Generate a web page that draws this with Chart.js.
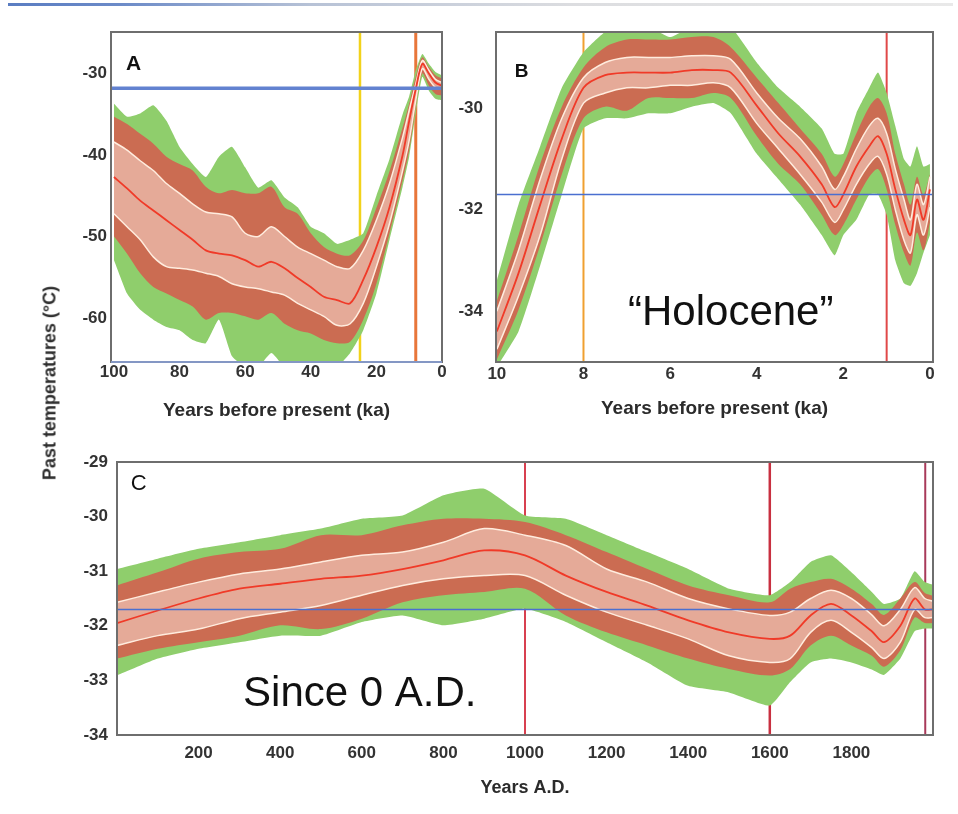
<!DOCTYPE html>
<html>
<head>
<meta charset="utf-8">
<title>Past temperatures</title>
<script src="https://cdn.jsdelivr.net/npm/chart.js@4.4.1/dist/chart.umd.min.js"></script>
<style>
  html, body { margin: 0; padding: 0; background: #fff; }
  body { width: 958px; height: 814px; position: relative; overflow: hidden; font-family: "Liberation Sans", Arial, sans-serif; }
  .topline { position: absolute; left: 8px; top: 3px; width: 945px; height: 3px;
    background: linear-gradient(to right, #5a7dc2 0%, #6c8bc8 12%, #b7c2d6 32%, #dcdde0 60%, #e9e9e9 100%); }
  canvas { position: absolute; }
  #chartA { left: 50px; top: 22px; }
  #chartB { left: 455px; top: 22px; }
  #chartC { left: 50px; top: 445px; }
  .ytitle { position: absolute; left: 50px; top: 383px; transform: translate(-50%, -50%) rotate(-90deg);
    font: bold 18px "Liberation Sans", Arial, sans-serif; color: #2e2e2e; white-space: nowrap; }
</style>
</head>
<body>
<div class="topline"></div>
<canvas id="chartA" width="405" height="400"></canvas>
<canvas id="chartB" width="495" height="400"></canvas>
<canvas id="chartC" width="900" height="354"></canvas>
<div class="ytitle">Past temperatures (°C)</div>

<script>
// --- Panel A: last 100 ka ---
const aYears = [100, 96, 92, 88, 84, 80, 76, 72, 68, 64, 60, 56, 52, 48, 44, 40, 36, 32, 28, 24, 20, 16, 12, 10, 8, 6, 4, 2, 0];
const aMean = [-42.7, -44.1, -45.6, -46.8, -48.0, -49.2, -50.4, -51.7, -52.1, -52.3, -52.9, -53.7, -53.1, -53.9, -55.1, -56.2, -57.4, -57.8, -58.2, -55.3, -51.3, -46.4, -40.0, -35.8, -31.9, -28.8, -30.0, -31.1, -31.5];
const aSdHi = [-38.4, -39.4, -40.7, -41.9, -43.5, -44.7, -46.0, -47.0, -47.2, -47.6, -49.6, -50.0, -48.8, -50.0, -51.3, -52.1, -52.9, -53.7, -53.9, -51.7, -48.0, -43.5, -37.8, -34.5, -31.3, -28.4, -29.6, -30.7, -31.1];
const aSdLo = [-47.2, -48.8, -50.4, -52.5, -53.7, -53.9, -54.1, -54.5, -54.9, -55.8, -56.2, -56.4, -56.8, -57.2, -58.2, -59.0, -59.8, -60.9, -60.7, -58.2, -53.7, -48.4, -41.9, -38.2, -33.3, -29.4, -30.7, -31.7, -31.9];
const aBrownHi = [-35.3, -36.2, -37.4, -38.6, -40.2, -41.1, -41.9, -43.9, -44.7, -44.3, -44.7, -44.7, -43.9, -46.4, -47.2, -49.6, -51.3, -52.1, -52.3, -50.5, -46.5, -42.0, -36.6, -33.7, -30.4, -28.0, -29.2, -30.2, -30.6];
const aBrownLo = [-50.0, -52.1, -54.5, -56.2, -57.0, -57.8, -58.6, -60.2, -59.4, -59.4, -59.8, -60.2, -59.4, -60.7, -61.5, -61.9, -62.7, -63.1, -62.9, -60.2, -55.8, -49.6, -43.1, -39.4, -34.1, -30.0, -31.5, -32.5, -32.7];
const aGreenHi = [-33.7, -35.3, -34.9, -33.9, -35.8, -39.0, -41.1, -42.7, -40.2, -39.0, -41.5, -44.0, -43.1, -45.2, -46.4, -48.8, -49.6, -50.9, -50.4, -49.6, -45.0, -40.5, -35.0, -32.8, -29.6, -27.6, -28.8, -29.8, -30.2];
const aGreenLo = [-52.9, -57.0, -59.0, -60.2, -61.1, -61.5, -62.7, -63.1, -60.2, -64.7, -66.0, -66.0, -64.3, -66.0, -66.0, -66.0, -66.0, -66.0, -64.3, -61.5, -57.0, -50.4, -43.9, -40.2, -34.9, -30.4, -32.1, -33.1, -33.3];
const aXTicks = [100, 80, 60, 40, 20, 0];
const aYTicks = [-60, -50, -40, -30];
const aXRange = [0, 100.9];
const aYRange = [-65.4, -24.9];
const aMarkers = [25, 8];
const aReference = -31.8;

// --- Panel B: Holocene, last 10 ka ---
const bYears = [10, 9.5, 9, 8.5, 8, 7.5, 7, 6.5, 6, 5.5, 5, 4.6, 4, 3.5, 3, 2.5, 2.2, 2, 1.7, 1.4, 1.2, 1, 0.8, 0.6, 0.45, 0.3, 0.15, 0];
const bMean = [-34.4, -33.25, -31.9, -30.6, -29.6, -29.35, -29.3, -29.3, -29.3, -29.25, -29.25, -29.3, -29.95, -30.5, -30.95, -31.5, -31.95, -31.7, -31.15, -30.75, -30.55, -30.9, -31.6, -32.2, -32.5, -31.8, -32.2, -31.6];
const bSdHi = [-34.0, -32.8, -31.4, -30.2, -29.4, -29.1, -29.0, -29.0, -29.0, -28.97, -28.97, -29.04, -29.7, -30.2, -30.6, -31.15, -31.6, -31.35, -30.8, -30.35, -30.2, -30.5, -31.2, -31.8, -32.2, -31.5, -31.9, -31.35];
const bSdLo = [-34.75, -33.7, -32.5, -31.0, -29.9, -29.7, -29.6, -29.6, -29.55, -29.55, -29.5, -29.6, -30.3, -30.8, -31.3, -31.85, -32.25, -32.0, -31.5, -31.1, -30.95, -31.3, -32.0, -32.6, -32.85, -32.1, -32.5, -31.95];
const bBrownHi = [-33.8, -32.5, -31.1, -29.97, -29.2, -28.8, -28.65, -28.65, -28.65, -28.6, -28.6, -28.8, -29.4, -29.9, -30.4, -30.9, -31.35, -31.1, -30.5, -29.97, -29.8, -30.1, -30.9, -31.5, -31.9, -31.35, -31.7, -31.3];
const bBrownLo = [-34.95, -33.97, -32.7, -31.3, -30.2, -29.97, -30.05, -29.8, -29.8, -29.8, -29.7, -29.8, -30.55, -31.1, -31.5, -32.1, -32.5, -32.3, -31.8, -31.35, -31.2, -31.6, -32.3, -32.85, -33.1, -32.45, -32.8, -32.25];
const bGreenHi = [-33.4, -31.9, -30.75, -29.6, -28.9, -28.5, -28.4, -28.4, -28.6, -28.4, -28.4, -28.4, -29.1, -29.6, -29.97, -30.4, -30.9, -30.9, -30.1, -29.6, -29.3, -29.7, -30.35, -31.0, -31.15, -30.75, -31.15, -31.1];
const bGreenLo = [-35.1, -34.4, -33.1, -31.7, -30.4, -30.2, -30.2, -30.1, -30.1, -29.97, -29.9, -30.1, -30.9, -31.4, -31.9, -32.5, -32.9, -32.5, -32.2, -31.7, -31.7, -32.1, -33.0, -33.45, -33.5, -33.25, -32.85, -32.5];
const bXTicks = [10, 8, 6, 4, 2, 0];
const bYTicks = [-34, -32, -30];
const bXRange = [-0.07, 10.02];
const bYRange = [-35, -28.5];
const bMarkers = [8, 1];
const bReference = -31.7;

// --- Panel C: since 0 A.D. ---
const cYears = [0, 100, 200, 300, 400, 500, 600, 700, 800, 900, 1000, 1100, 1200, 1300, 1400, 1500, 1600, 1650, 1700, 1750, 1800, 1850, 1880, 1920, 1955, 1980, 2000];
const cMean = [-31.95, -31.72, -31.5, -31.32, -31.23, -31.14, -31.08, -30.96, -30.8, -30.62, -30.71, -31.08, -31.38, -31.63, -31.9, -32.12, -32.24, -32.18, -31.81, -31.6, -31.81, -32.1, -32.3, -32.0, -31.5, -31.7, -31.7];
const cSdHi = [-31.57, -31.38, -31.2, -31.05, -30.96, -30.83, -30.71, -30.65, -30.47, -30.22, -30.34, -30.53, -30.96, -31.2, -31.5, -31.69, -31.81, -31.75, -31.5, -31.35, -31.5, -31.8, -32.0, -31.7, -31.3, -31.5, -31.55];
const cSdLo = [-32.36, -32.18, -32.06, -31.87, -31.75, -31.63, -31.44, -31.26, -31.14, -31.08, -31.08, -31.44, -31.75, -31.99, -32.24, -32.55, -32.67, -32.6, -32.12, -31.9, -32.12, -32.4, -32.6, -32.3, -31.7, -31.85, -31.85];
const cBrownHi = [-31.26, -31.02, -30.77, -30.65, -30.59, -30.34, -30.34, -30.16, -30.04, -30.04, -30.1, -30.34, -30.65, -30.96, -31.26, -31.44, -31.57, -31.32, -31.2, -31.14, -31.32, -31.6, -31.8, -31.5, -31.2, -31.4, -31.45];
const cBrownLo = [-32.6, -32.42, -32.3, -32.18, -31.99, -32.06, -31.87, -31.57, -31.44, -31.38, -31.32, -31.81, -32.12, -32.36, -32.6, -32.79, -32.91, -32.79, -32.36, -32.18, -32.36, -32.55, -32.75, -32.45, -31.85, -31.95, -31.95];
const cGreenHi = [-30.96, -30.77, -30.59, -30.47, -30.34, -30.22, -30.04, -29.98, -29.61, -29.49, -29.98, -30.04, -30.34, -30.65, -30.96, -31.32, -31.44, -31.2, -30.83, -30.71, -31.02, -31.38, -31.6, -31.5, -31.0, -31.2, -31.25];
const cGreenLo = [-32.91, -32.6, -32.42, -32.3, -32.18, -32.18, -31.93, -31.81, -31.99, -31.87, -31.69, -31.93, -32.3, -32.67, -33.1, -33.22, -33.46, -33.03, -32.67, -32.6, -32.67, -32.8, -32.9, -32.6, -32.1, -32.05, -32.05];
const cXTicks = [200, 400, 600, 800, 1000, 1200, 1400, 1600, 1800];
const cYTicks = [-34, -33, -32, -31, -30, -29];
const cXRange = [0, 2000];
const cYRange = [-34, -29];
const cMarkers = [1000, 1600, 1981];
const cReference = -31.7;

// colours
const GREEN = 'rgb(143, 206, 108)';
const BROWN = 'rgb(203, 108, 82)';
const PALE = 'rgba(255, 232, 222, 0.5)';
const SD_LINE = 'rgb(255, 236, 222)';
const MEAN_LINE = 'rgb(240, 58, 40)';
const TICK_COLOR = '#333';
const TICK_FONT = { family: 'Liberation Sans', size: 17, weight: 'bold' };

function pts(xs, ys) {
    return xs.map((x, i) => ({ x: x, y: ys[i] }));
}

// green envelope, brown band, white +/- lines and the red mean, bottom to top
function bandDatasets(xs, s) {
    const base = { pointRadius: 0, tension: 0.3 };
    return [
        { ...base, data: pts(xs, s.greenLo), borderWidth: 0, fill: false, order: 30, tension: 0.15 },
        { ...base, data: pts(xs, s.greenHi), borderWidth: 0, backgroundColor: GREEN, fill: '-1', order: 30, tension: 0.15 },
        { ...base, data: pts(xs, s.brownLo), borderWidth: 0, fill: false, order: 20 },
        { ...base, data: pts(xs, s.brownHi), borderWidth: 0, backgroundColor: BROWN, fill: '-1', order: 20 },
        { ...base, data: pts(xs, s.sdLo), borderColor: SD_LINE, borderWidth: 1.5, fill: false, order: 10 },
        { ...base, data: pts(xs, s.sdHi), borderColor: SD_LINE, borderWidth: 1.5, backgroundColor: PALE, fill: '-1', order: 10 },
        { ...base, data: pts(xs, s.mean), borderColor: MEAN_LINE, borderWidth: 1.8, fill: false, order: 5 }
    ];
}

function markerDatasets(marks, colors, widths, yRange) {
    return marks.map((m, i) => ({
        data: [{ x: m, y: yRange[0] }, { x: m, y: yRange[1] }],
        borderColor: colors[i], borderWidth: widths[i], pointRadius: 0, fill: false, order: 50
    }));
}

function referenceDataset(v, xRange, color, width) {
    return {
        data: [{ x: xRange[0], y: v }, { x: xRange[1], y: v }],
        borderColor: color, borderWidth: width, pointRadius: 0, fill: false, order: 0
    };
}

// box round the plot area
function framePlugin(color, bottomColor) {
    return {
        id: 'frame',
        afterDatasetsDraw(chart) {
            const { ctx, chartArea: a } = chart;
            ctx.save();
            ctx.lineWidth = 2;
            ctx.strokeStyle = color;
            ctx.strokeRect(a.left, a.top, a.right - a.left, a.bottom - a.top);
            if (bottomColor) {
                ctx.strokeStyle = bottomColor;
                ctx.beginPath();
                ctx.moveTo(a.left, a.bottom);
                ctx.lineTo(a.right, a.bottom);
                ctx.stroke();
            }
            ctx.restore();
        }
    };
}

// panel letters and captions, placed in data coordinates
function labelPlugin(items) {
    return {
        id: 'panelText',
        afterDatasetsDraw(chart) {
            const { ctx, scales: { x, y } } = chart;
            items.forEach(it => {
                ctx.save();
                ctx.font = it.font;
                ctx.fillStyle = '#111';
                ctx.textAlign = it.align || 'center';
                ctx.textBaseline = it.baseline || 'middle';
                ctx.fillText(it.text, x.getPixelForValue(it.at[0]), y.getPixelForValue(it.at[1]));
                ctx.restore();
            });
        }
    };
}

function makeChart(id, datasets, o) {
    return new Chart(document.getElementById(id), {
        type: 'line',
        data: { datasets: datasets },
        options: {
            animation: false,
            responsive: false,
            devicePixelRatio: 1,
            events: [],
            layout: { padding: { left: 0, top: o.padTop, right: o.padRight, bottom: 0 } },
            plugins: { legend: { display: false }, tooltip: { enabled: false } },
            scales: {
                x: {
                    type: 'linear',
                    reverse: o.reverse,
                    min: o.xRange[0],
                    max: o.xRange[1],
                    grid: { display: false, drawTicks: false },
                    border: { display: false },
                    afterBuildTicks: s => { s.ticks = o.xTicks.map(v => ({ value: v })); },
                    afterFit: s => { s.height = o.xAxisHeight; s.paddingLeft = 0; s.paddingRight = 0; },
                    ticks: { autoSkip: false, maxRotation: 0, padding: o.xTickPad, color: TICK_COLOR, font: TICK_FONT, callback: v => String(v) },
                    title: {
                        display: true, text: o.xTitle, color: '#2b2b2b',
                        font: { family: 'Liberation Sans', size: o.titleSize, weight: 'bold' },
                        padding: { top: 0, bottom: o.titlePad }
                    }
                },
                y: {
                    type: 'linear',
                    min: o.yRange[0],
                    max: o.yRange[1],
                    grid: { display: false, drawTicks: false },
                    border: { display: false },
                    afterBuildTicks: s => { s.ticks = o.yTicks.map(v => ({ value: v })); },
                    afterFit: s => { s.width = o.yAxisWidth; s.paddingTop = 0; s.paddingBottom = 0; },
                    ticks: { autoSkip: false, padding: o.yTickPad, color: TICK_COLOR, font: TICK_FONT, callback: v => String(v) }
                }
            }
        },
        plugins: [framePlugin('#6e6e6e', o.bottomColor), labelPlugin(o.labels)]
    });
}

// Panel A
makeChart('chartA', [
    ...markerDatasets(aMarkers, ['#f2d21b', '#e8763a'], [2.5, 3], aYRange),
    ...bandDatasets(aYears, { mean: aMean, sdHi: aSdHi, sdLo: aSdLo, brownHi: aBrownHi, brownLo: aBrownLo, greenHi: aGreenHi, greenLo: aGreenLo }),
    referenceDataset(aReference, aXRange, '#6282d0', 3.5)
], {
    reverse: true, xRange: aXRange, yRange: aYRange, xTicks: aXTicks, yTicks: aYTicks,
    padTop: 10, padRight: 13, xAxisHeight: 60, yAxisWidth: 61, xTickPad: 0, yTickPad: 4,
    xTitle: 'Years before present (ka)', titleSize: 19, titlePad: 0, bottomColor: '#8497c4',
    labels: [{ text: 'A', at: [94, -28.9], font: 'bold 21px "Liberation Sans"' }]
});

// Panel B
makeChart('chartB', [
    ...markerDatasets(bMarkers, ['#f0a030', '#e04848'], [2, 2], bYRange),
    ...bandDatasets(bYears, { mean: bMean, sdHi: bSdHi, sdLo: bSdLo, brownHi: bBrownHi, brownLo: bBrownLo, greenHi: bGreenHi, greenLo: bGreenLo }),
    referenceDataset(bReference, bXRange, '#4a6fd0', 1.5)
], {
    reverse: true, xRange: bXRange, yRange: bYRange, xTicks: bXTicks, yTicks: bYTicks,
    padTop: 10, padRight: 17, xAxisHeight: 60, yAxisWidth: 41, xTickPad: 2, yTickPad: 13,
    xTitle: 'Years before present (ka)', titleSize: 19, titlePad: 2,
    labels: [
        { text: 'B', at: [9.43, -29.28], font: 'bold 19px "Liberation Sans"' },
        { text: '\u201CHolocene\u201D', at: [4.6, -34.27], baseline: 'alphabetic', font: '42px "Liberation Sans"' }
    ]
});

// Panel C
makeChart('chartC', [
    ...markerDatasets(cMarkers, ['#d84050', '#c83040', '#a83a5a'], [2, 2.5, 2], cYRange),
    ...bandDatasets(cYears, { mean: cMean, sdHi: cSdHi, sdLo: cSdLo, brownHi: cBrownHi, brownLo: cBrownLo, greenHi: cGreenHi, greenLo: cGreenLo }),
    referenceDataset(cReference, cXRange, '#4a6fd0', 1.5)
], {
    reverse: false, xRange: cXRange, yRange: cYRange, xTicks: cXTicks, yTicks: cYTicks,
    padTop: 17, padRight: 17, xAxisHeight: 64, yAxisWidth: 67, xTickPad: 8, yTickPad: 9,
    xTitle: 'Years A.D.', titleSize: 18, titlePad: 0,
    labels: [
        { text: 'C', at: [53, -29.4], font: '22px "Liberation Sans"' },
        { text: 'Since 0 A.D.', at: [309, -33.47], align: 'left', baseline: 'alphabetic', font: '42px "Liberation Sans"' }
    ]
});
</script>
</body>
</html>
